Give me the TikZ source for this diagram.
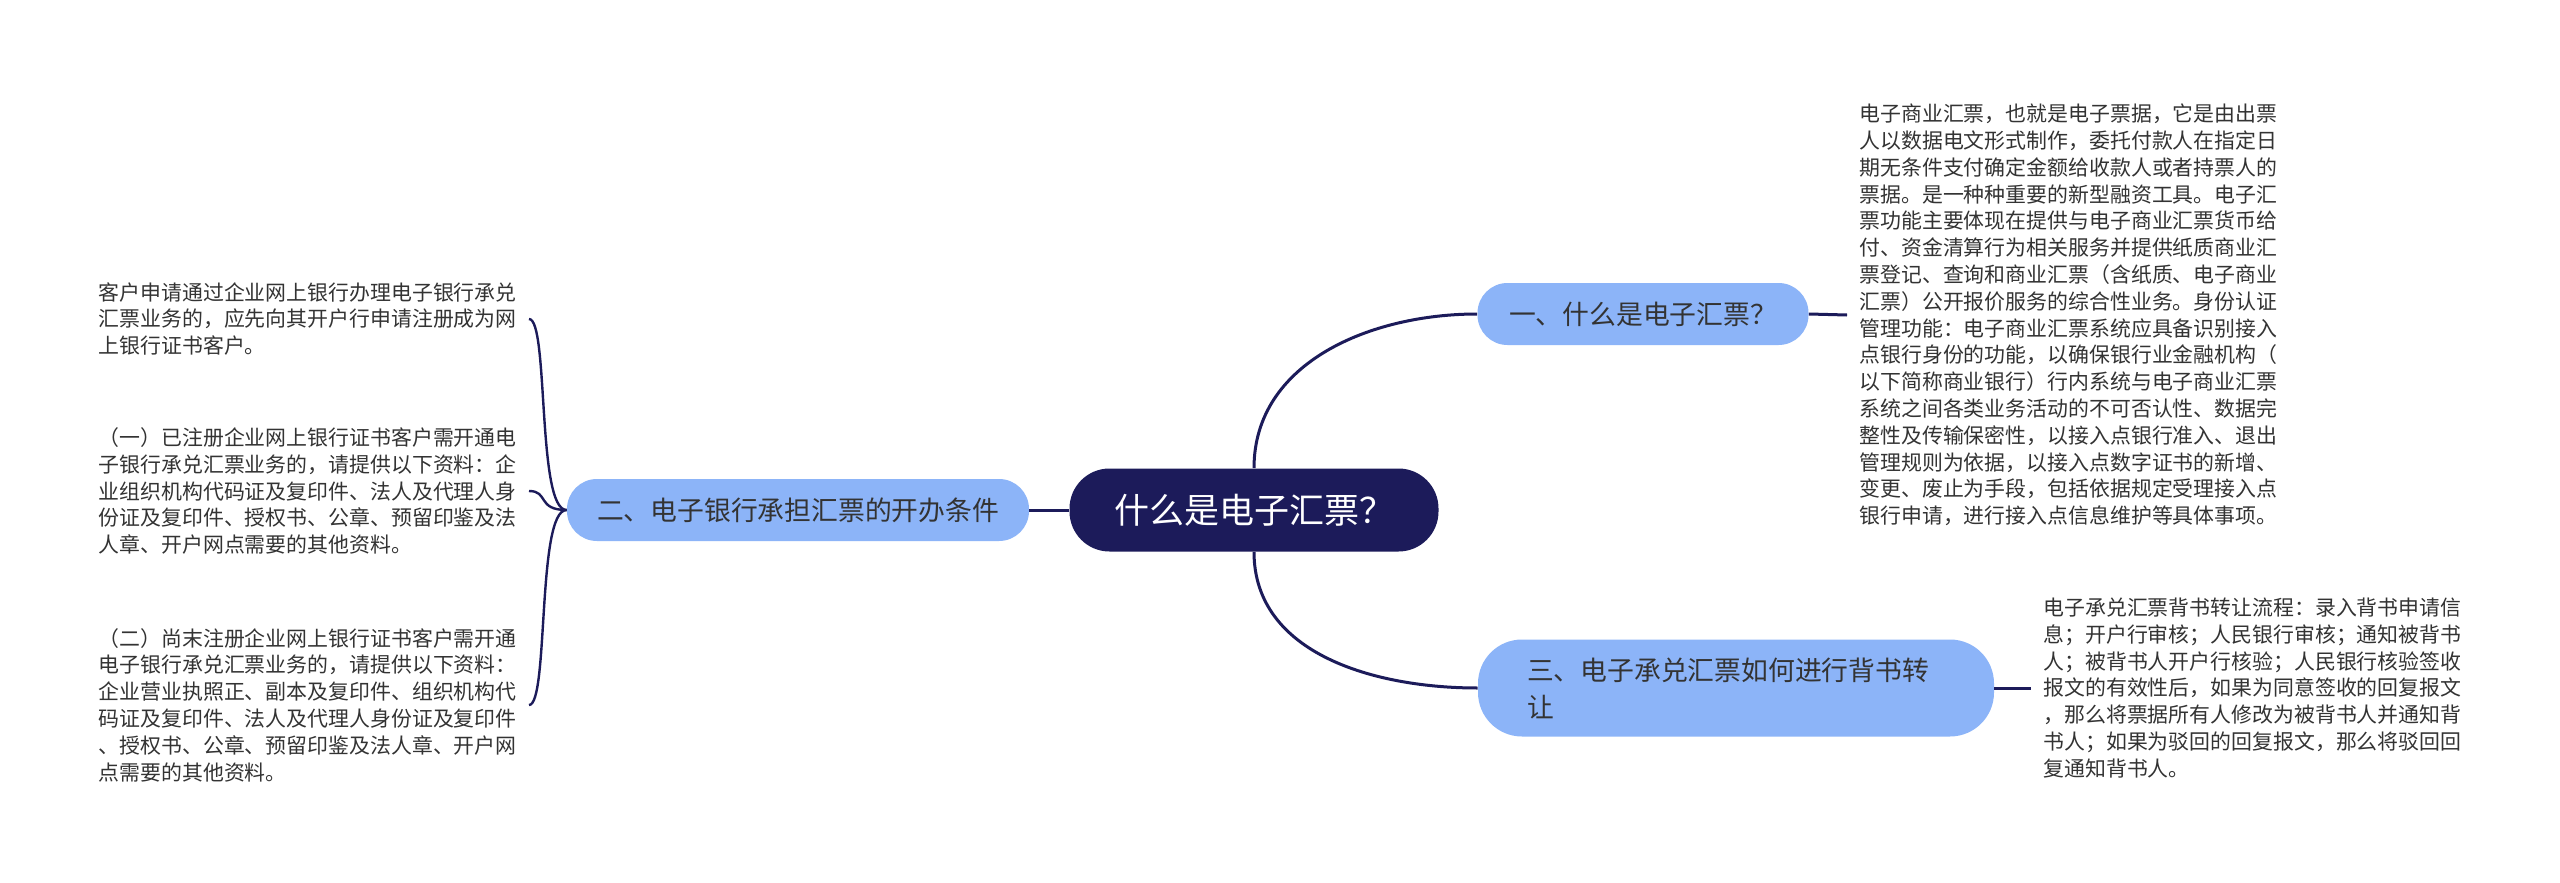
\documentclass[tikz,border=0pt]{standalone}
\usepackage{fontspec}
\setmainfont{Noto Sans CJK SC}
\usepackage{xcolor}
\usepackage{tikz}
\usetikzlibrary{positioning}

\definecolor{navy}{RGB}{28,27,90}
\definecolor{topicblue}{RGB}{140,180,248}
\definecolor{textgray}{RGB}{51,51,51}

\begin{document}
\begin{tikzpicture}[x=0.5pt, y=0.5pt,
  branch/.style={draw=navy, line width=1.5pt},
  topic/.style={fill=topicblue, text=textgray, rounded corners=15pt, minimum height=31pt, inner sep=0pt,
    font=\fontsize{13.4pt}{18.5pt}\selectfont},
  leaf/.style={text=textgray, align=left, inner ysep=0pt, inner xsep=6pt,
    font=\fontsize{10.45pt}{13.4pt}\selectfont}]

  % Canvas of the reference size
  \fill[white] (0,0) rectangle (2560,-883);
  \useasboundingbox (0,0) rectangle (2560,-883);

  % Central topic
  \node[fill=navy, text=white, rounded corners=20pt, minimum width=184.5pt, minimum height=41.5pt,
    font=\fontsize{17.5pt}{20pt}\selectfont] (root) at (1254,-510) {什么是电子汇票？};

  % Main branches
  \node[topic, minimum width=165.5pt] (b1) at (1643,-314) {一、什么是电子汇票？};
  \node[topic, minimum width=231pt] (b2) at (798,-510) {二、电子银行承担汇票的开办条件};
  \node[topic, align=left, text width=209pt, inner xsep=24.5pt, minimum height=48.5pt,
    rounded corners=22pt] (b3) at (1736,-688) {三、电子承兑汇票如何进行背书转\\让};

  % Right-hand details
  \node[leaf, anchor=west] (t1) at (1847,-315) {电子商业汇票，也就是电子票据，它是由出票\\
    人以数据电文形式制作，委托付款人在指定日\\
    期无条件支付确定金额给收款人或者持票人的\\
    票据。是一种种重要的新型融资工具。电子汇\\
    票功能主要体现在提供与电子商业汇票货币给\\
    付、资金清算行为相关服务并提供纸质商业汇\\
    票登记、查询和商业汇票（含纸质、电子商业\\
    汇票）公开报价服务的综合性业务。身份认证\\
    管理功能：电子商业汇票系统应具备识别接入\\
    点银行身份的功能，以确保银行业金融机构（\\
    以下简称商业银行）行内系统与电子商业汇票\\
    系统之间各类业务活动的不可否认性、数据完\\
    整性及传输保密性，以接入点银行准入、退出\\
    管理规则为依据，以接入点数字证书的新增、\\
    变更、废止为手段，包括依据规定受理接入点\\
    银行申请，进行接入点信息维护等具体事项。};
  \node[leaf, anchor=west] (t3) at (2031,-688) {电子承兑汇票背书转让流程：录入背书申请信\\
    息；开户行审核；人民银行审核；通知被背书\\
    人；被背书人开户行核验；人民银行核验签收\\
    报文的有效性后，如果为同意签收的回复报文\\
    ，那么将票据所有人修改为被背书人并通知背\\
    书人；如果为驳回的回复报文，那么将驳回回\\
    复通知背书人。};

  % Left-hand details
  \node[leaf, anchor=east] (ta) at (529,-319) {客户申请通过企业网上银行办理电子银行承兑\\
    汇票业务的，应先向其开户行申请注册成为网\\
    上银行证书客户。};
  \node[leaf, anchor=east] (tb) at (529,-491) {（一）已注册企业网上银行证书客户需开通电\\
    子银行承兑汇票业务的，请提供以下资料：企\\
    业组织机构代码证及复印件、法人及代理人身\\
    份证及复印件、授权书、公章、预留印鉴及法\\
    人章、开户网点需要的其他资料。};
  \node[leaf, anchor=east] (tc) at (529,-705) {（二）尚末注册企业网上银行证书客户需开通\\
    电子银行承兑汇票业务的，请提供以下资料：\\
    企业营业执照正、副本及复印件、组织机构代\\
    码证及复印件、法人及代理人身份证及复印件\\
    、授权书、公章、预留印鉴及法人章、开户网\\
    点需要的其他资料。};

  % Connectors
  \draw[branch] (root.west) -- (b2.east);
  \draw[branch] (root.north) to[out=90, in=180] (b1.west);
  \draw[branch] (root.south) to[out=-90, in=180] (b3.west);
  \draw[branch] (b1.east) -- (t1.west);
  \draw[branch] (b3.east) -- (t3.west);
  \foreach \leafname in {ta,tb,tc}
    \draw[branch, line width=1.2pt] (b2.west) .. controls +(-30,0) and +(20,0) .. (\leafname.east);

\end{tikzpicture}
\end{document}
